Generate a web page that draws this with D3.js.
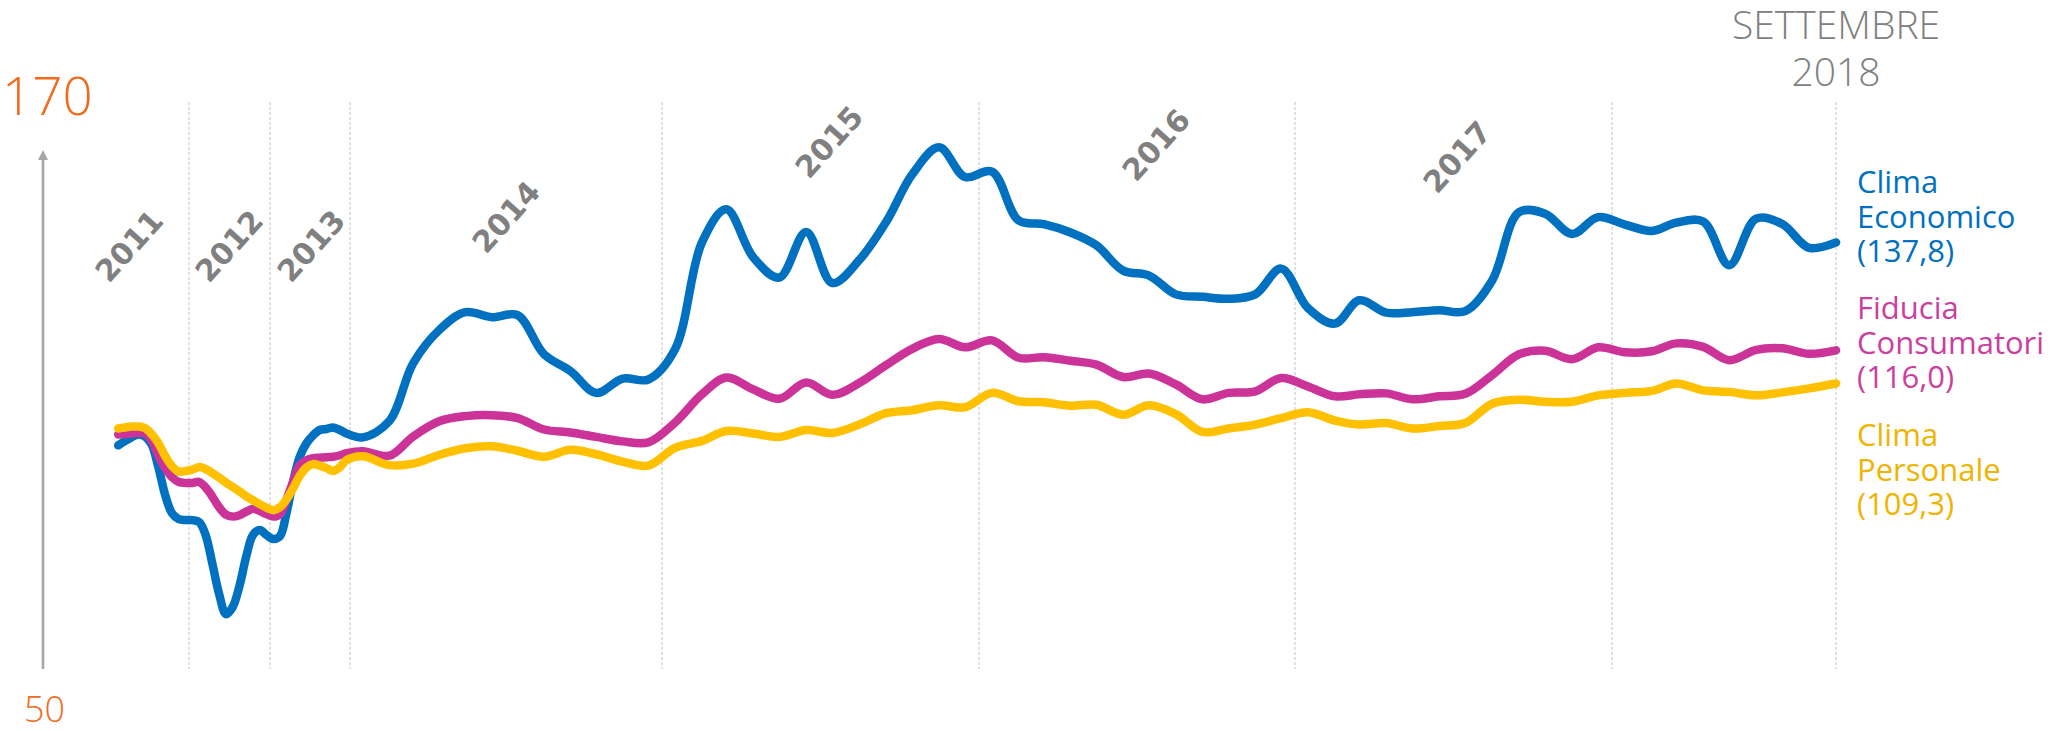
<!DOCTYPE html>
<html>
<head>
<meta charset="utf-8">
<script src="https://cdn.jsdelivr.net/npm/d3@7"></script>
<style>
  html, body { margin: 0; padding: 0; background: #fff; }
  svg { display: block; }
</style>
</head>
<body>
<div id="chart"></div>
<script>
// monthly readings, Feb 2011 .. Sep 2018
const firstMonth = new Date(2011, 1, 1);
const lastMonth = new Date(2018, 8, 1);

const climaEconomico = [
  96.8, 97.6, 98.4, 99.0, 98.6, 97.0, 92.4, 86.7, 83.1, 81.9, 81.7,
  81.7, 81.3, 78.7, 72.8, 66.8, 62.7, 64.1, 68.4, 74.4, 78.7, 79.7, 78.7,
  77.9, 78.5, 82.9, 89.4, 94.4, 97.2, 98.8, 99.9, 100.1, 100.4, 99.9, 99.2,
  98.4, 101.7, 113.4, 120.2, 123.7, 122.7, 123.1, 115.2, 111.8, 107.4, 110.3, 110.1,
  116.2, 137.8, 144.5, 134.8, 130.7, 139.9, 129.6, 134.2, 141.9, 151.5, 157.0, 151.0,
  152.1, 142.2, 141.5, 139.8, 137.2, 132.1, 131.1, 127.3, 126.8, 126.4, 127.3, 132.5,
  124.5, 121.4, 126.1, 123.6, 123.7, 124.1, 123.9, 130.1, 143.9, 143.6, 139.5, 142.9,
  141.4, 140.1, 141.8, 142.0, 133.2, 142.6, 141.5, 136.7, 137.8
];

const fiduciaConsumatori = [
  99.0, 99.1, 99.2, 99.3, 99.2, 97.8, 94.7, 92.2, 90.4, 89.4, 89.2,
  89.2, 89.4, 88.3, 86.4, 84.3, 82.8, 82.4, 82.7, 83.4, 84.0, 83.5, 82.9,
  82.4, 82.9, 85.7, 89.4, 92.8, 93.8, 94.2, 94.3, 94.4, 94.5, 94.8, 95.2,
  95.6, 94.7, 98.6, 101.7, 102.7, 102.9, 102.3, 100.0, 99.4, 98.5, 97.6, 97.4,
  101.4, 107.1, 110.5, 108.1, 106.2, 109.5, 107.0, 109.4, 113.0, 116.3, 118.3, 116.6,
  118.0, 114.5, 114.6, 113.9, 113.1, 110.6, 111.3, 109.1, 106.1, 107.4, 107.7, 110.4,
  108.7, 106.7, 107.1, 107.3, 106.1, 106.7, 107.2, 111.0, 115.2, 115.9, 114.2, 116.6,
  115.6, 115.8, 117.4, 116.7, 114.0, 116.1, 116.4, 115.3, 116.0
];

const climaPersonale = [
  100.2, 100.4, 100.6, 100.6, 100.3, 99.1, 97.2, 94.6, 92.6, 91.5, 91.6,
  91.9, 92.4, 92.0, 91.2, 90.3, 89.3, 88.4, 87.5, 86.5, 85.7, 84.9, 84.2,
  83.7, 84.3, 85.8, 88.1, 90.6, 92.3, 93.0, 92.7, 92.2, 91.6, 92.4, 93.8,
  94.6, 92.8, 93.1, 94.9, 96.2, 96.6, 95.7, 94.5, 95.9, 95.0, 93.5, 92.7,
  96.3, 97.7, 99.7, 99.2, 98.5, 99.9, 99.3, 101.0, 103.3, 103.9, 104.9, 104.5,
  107.4, 105.7, 105.5, 104.8, 105.0, 103.0, 104.9, 103.1, 99.5, 100.2, 101.0, 102.3,
  103.5, 101.8, 101.0, 101.3, 100.2, 100.7, 101.3, 105.2, 106.0, 105.6, 105.6, 106.9,
  107.4, 107.8, 109.3, 107.9, 107.6, 106.9, 107.5, 108.3, 109.3
];

const yearLabels = ['2011', '2012', '2013', '2014', '2015', '2016', '2017'];
const gridYears = [2012, 2013, 2014, 2015, 2016, 2017, 2018];
const yMin = 50;
const yMax = 170;

const series = [
  { key: 'eco', values: climaEconomico, color: '#0070C0', text: '#0070C0',
    label: ['Clima', 'Economico', '(137,8)'] },
  { key: 'fid', values: fiduciaConsumatori, color: '#CC3399', text: '#CC3F9F',
    label: ['Fiducia', 'Consumatori', '(116,0)'] },
  { key: 'per', values: climaPersonale, color: '#FFC000', text: '#F0B400',
    label: ['Clima', 'Personale', '(109,3)'] }
];

// layout (not data)
const width = 2055;
const height = 731;
const yearLabelPos = [[109, 284], [209, 284], [291, 284], [486, 255], [809, 180], [1136, 183], [1437, 195]];
const legendTop = [193, 319, 446];

(() => {
  const months = d3.timeMonth.range(firstMonth, d3.timeMonth.offset(lastMonth, 1));
  const mid = (d) => new Date(d.getFullYear(), d.getMonth(), 16);

  // early years are compressed on the original chart
  const x = d3.scaleTime()
    .domain([2011, 2012, 2013, 2014, 2015, 2016, 2017, 2018, 2019].map((yr) => new Date(yr, 0, 1)))
    .range([108, 189, 270, 350, 662, 979, 1295, 1612, 1929]);
  const y = d3.scaleLinear().domain([yMin, yMax]).range([677, 83]);

  const svg = d3.select('#chart').append('svg')
    .attr('width', width)
    .attr('height', height);

  const endX = x(mid(lastMonth));
  const gridX = gridYears.map((yr) => x(new Date(yr, 0, 1))).concat([endX]);

  svg.append('g')
    .selectAll('line')
    .data(gridX)
    .enter()
    .append('line')
    .attr('x1', (d) => d)
    .attr('x2', (d) => d)
    .attr('y1', 102)
    .attr('y2', 669)
    .attr('stroke', '#c8c8c8')
    .attr('stroke-width', 1.1)
    .attr('stroke-dasharray', '3,2');

  // vertical axis with arrow
  svg.append('line')
    .attr('x1', 43).attr('x2', 43)
    .attr('y1', 158).attr('y2', 669)
    .attr('stroke', '#a6a6a6')
    .attr('stroke-width', 2.6);
  svg.append('path')
    .attr('d', 'M43,150 L38,160 L48,160 Z')
    .attr('fill', '#a6a6a6');

  svg.append('text')
    .attr('x', 2).attr('y', 115)
    .attr('fill', '#F26B1D')
    .attr('font-family', "'Open Sans', 'Noto Sans', sans-serif")
    .attr('font-weight', 300)
    .attr('font-size', 53)
    .text(String(yMax));
  svg.append('text')
    .attr('x', 24).attr('y', 722)
    .attr('fill', '#F26B1D')
    .attr('font-family', "'Open Sans', 'Noto Sans', sans-serif")
    .attr('font-weight', 300)
    .attr('font-size', 36)
    .text(String(yMin));

  const endLabel = svg.append('text')
    .attr('fill', '#808080')
    .attr('font-family', "'Open Sans', 'Noto Sans', sans-serif")
    .attr('font-weight', 300)
    .attr('font-size', 39)
    .attr('text-anchor', 'middle');
  endLabel.append('tspan').attr('x', endX).attr('y', 39).text('SETTEMBRE');
  endLabel.append('tspan').attr('x', endX).attr('y', 86).text('2018');

  svg.append('g')
    .selectAll('text')
    .data(yearLabels)
    .enter()
    .append('text')
    .attr('transform', (d, i) => `translate(${yearLabelPos[i][0]},${yearLabelPos[i][1]}) rotate(-48)`)
    .attr('fill', '#808080')
    .attr('font-family', "'DejaVu Sans', Verdana, sans-serif")
    .attr('font-weight', 'bold')
    .attr('font-size', 30)
    .text((d) => d);

  const line = d3.line()
    .x((d) => x(mid(d.date)))
    .y((d) => y(d.value))
    .curve(d3.curveCatmullRom.alpha(0.5));

  series.forEach((s) => {
    const pts = s.values.map((v, i) => ({ date: months[i], value: v }));
    svg.append('path')
      .datum(pts)
      .attr('fill', 'none')
      .attr('stroke', s.color)
      .attr('stroke-width', 8.5)
      .attr('stroke-linecap', 'round')
      .attr('stroke-linejoin', 'round')
      .attr('d', line);
  });

  series.forEach((s, i) => {
    const t = svg.append('text')
      .attr('fill', s.text)
      .attr('font-family', "'Open Sans', 'Noto Sans', sans-serif")
      .attr('font-size', 31);
    s.label.forEach((row, r) => {
      t.append('tspan').attr('x', 1857).attr('y', legendTop[i] + r * 34.5).text(row);
    });
  });
})();
</script>
</body>
</html>
